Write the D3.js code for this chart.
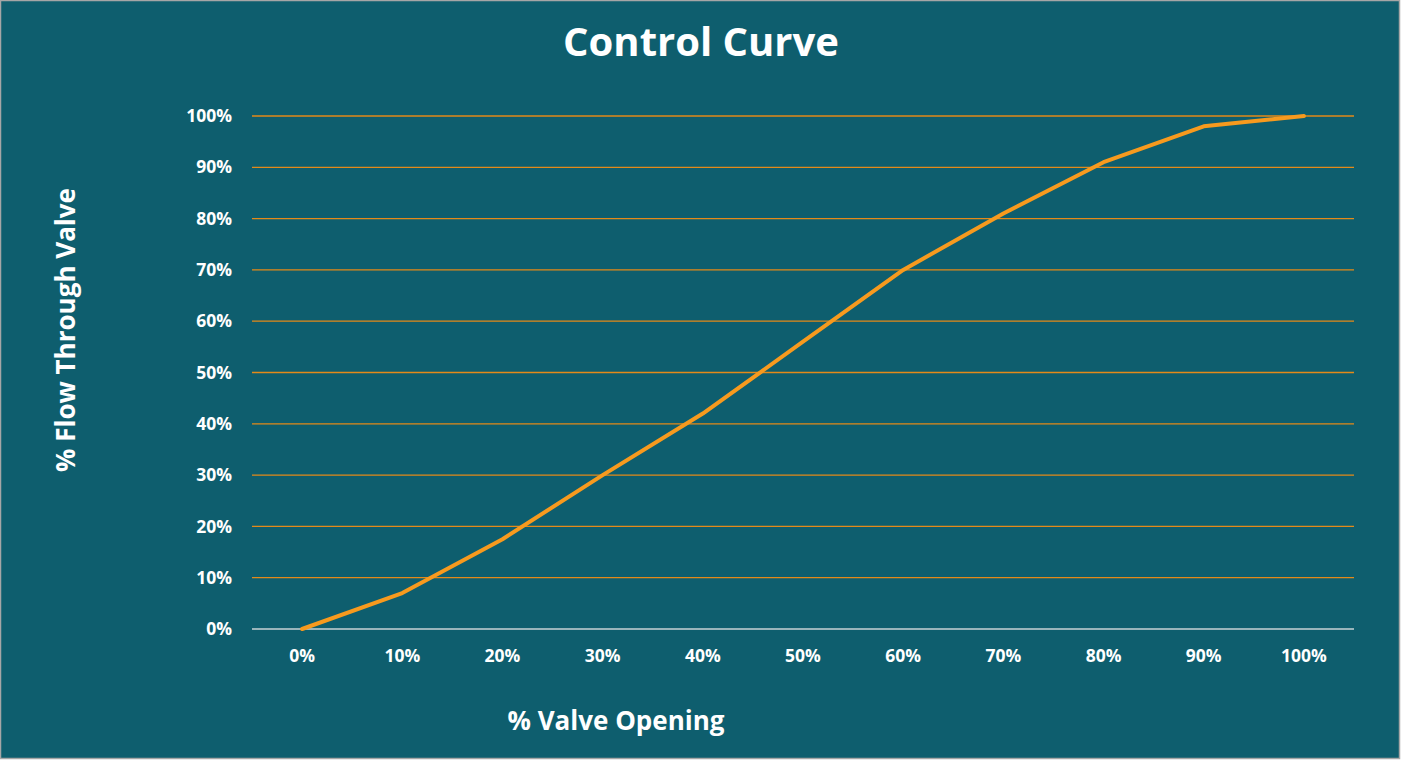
<!DOCTYPE html>
<html>
<head>
<meta charset="utf-8">
<script src="https://cdn.jsdelivr.net/npm/d3@7"></script>
<style>
html,body{margin:0;padding:0;background:#fff;}
svg{display:block;}
text{font-family:"Open Sans","Noto Sans",sans-serif;font-weight:700;fill:#fff;}
</style>
</head>
<body>
<svg id="chart" width="1402" height="761"></svg>
<script>
const categories = ["0%","10%","20%","30%","40%","50%","60%","70%","80%","90%","100%"];
const flowValues = [0, 0.07, 0.175, 0.30, 0.42, 0.56, 0.70, 0.81, 0.91, 0.98, 1.00];
const yTicks = [0,0.1,0.2,0.3,0.4,0.5,0.6,0.7,0.8,0.9,1.0];
const chartTitle = "Control Curve";
const xTitle = "% Valve Opening";
const yTitle = "% Flow Through Valve";

const W = 1402, H = 761;
const svg = d3.select("#chart");
svg.append("rect").attr("x",0.5).attr("y",0.5).attr("width",W-3).attr("height",H-3)
  .attr("fill","#0e5e6e").attr("stroke","#a6a6a6").attr("stroke-width",1.5);

const pLeft = 252, pRight = 1354, pTop = 116, pBottom = 629;
const x = d3.scaleBand().domain(categories).range([pLeft, pRight]);
const y = d3.scaleLinear().domain([0,1]).range([pBottom, pTop]);

// gridlines
svg.append("g").selectAll("line").data(yTicks.filter(d=>d>0)).join("line")
  .attr("x1",pLeft).attr("x2",pRight)
  .attr("y1",d=>y(d)).attr("y2",d=>y(d))
  .attr("stroke","#e38a19").attr("stroke-width",1.3);

// x axis baseline
svg.append("line").attr("x1",pLeft).attr("x2",pRight).attr("y1",y(0)).attr("y2",y(0))
  .attr("stroke","#c9d3d6").attr("stroke-width",1.3);

// y tick labels
const yAxis = d3.axisLeft(y).tickValues(yTicks).tickFormat(d3.format(".0%")).tickSize(0).tickPadding(20);
const gy = svg.append("g").attr("transform",`translate(${pLeft},0)`).call(yAxis);
gy.select(".domain").remove();
gy.selectAll("text").attr("font-size",17.5).attr("fill","#fff").attr("font-family","'Open Sans',sans-serif").attr("font-weight",700);

// x tick labels
const xAxis = d3.axisBottom(x).tickSize(0).tickPadding(21);
const gx = svg.append("g").attr("transform",`translate(0,${pBottom})`).call(xAxis);
gx.select(".domain").remove();
gx.selectAll("text").attr("font-size",17.5).attr("fill","#fff").attr("font-family","'Open Sans',sans-serif").attr("font-weight",700);

// line
const line = d3.line().x((d,i)=>x(categories[i])+x.bandwidth()/2).y(d=>y(d));
svg.append("path").datum(flowValues).attr("d",line)
  .attr("fill","none").attr("stroke","#f79a1e").attr("stroke-width",4).attr("stroke-linejoin","round").attr("stroke-linecap","round");

// titles
svg.append("text").attr("x",701).attr("y",40).attr("text-anchor","middle").attr("dominant-baseline","central")
  .attr("font-size",40).text(chartTitle);
svg.append("text").attr("x",616).attr("y",720).attr("text-anchor","middle").attr("dominant-baseline","central")
  .attr("font-size",26).text(xTitle);
svg.append("text").attr("transform","translate(65,330) rotate(-90)").attr("text-anchor","middle").attr("dominant-baseline","central")
  .attr("font-size",26).text(yTitle);
</script>
</body>
</html>
